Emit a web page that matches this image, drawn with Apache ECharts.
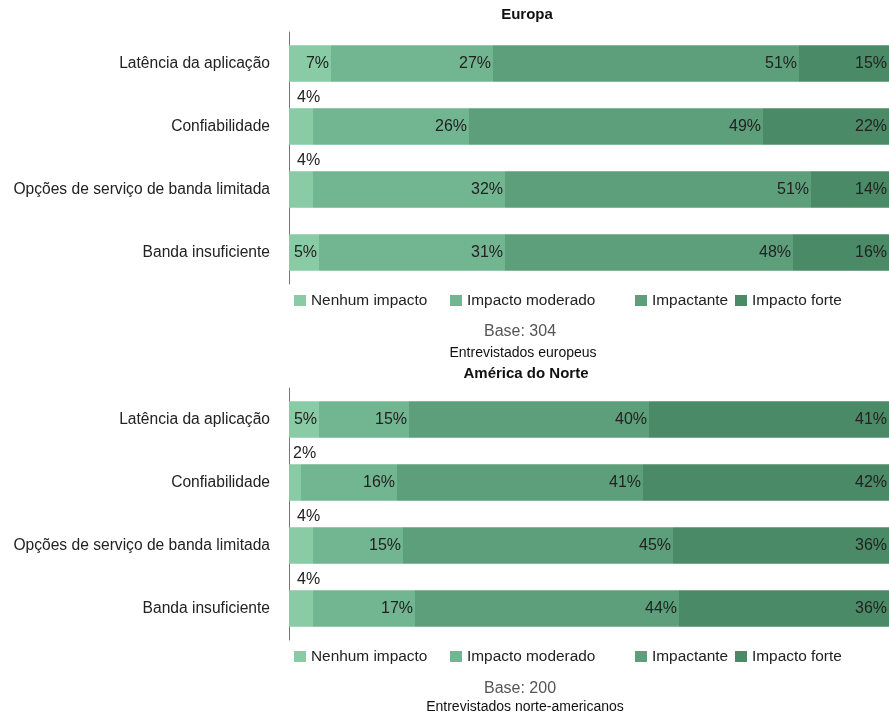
<!DOCTYPE html>
<html>
<head>
<meta charset="utf-8">
<script src="https://cdn.jsdelivr.net/npm/echarts@6/dist/echarts.min.js"></script>
<style>
html,body{margin:0;padding:0;background:#fff;}
#chart{width:889px;height:716px;}
</style>
</head>
<body>
<div id="chart"></div>
<script>
var categories = ['Latência da aplicação', 'Confiabilidade', 'Opções de serviço de banda limitada', 'Banda insuficiente'];
var seriesNames = ['Nenhum impacto', 'Impacto moderado', 'Impactante', 'Impacto forte'];
var colors = ['#88cba4', '#72b591', '#5e9f7b', '#4b8a66'];

var euNenhum = [7, 4, 4, 5];
var euModerado = [27, 26, 32, 31];
var euImpactante = [51, 49, 51, 48];
var euForte = [15, 22, 14, 16];

var naNenhum = [5, 2, 4, 4];
var naModerado = [15, 16, 15, 17];
var naImpactante = [40, 41, 45, 44];
var naForte = [41, 42, 36, 36];

var FONT = '"Liberation Sans", Arial, Helvetica, sans-serif';

function items(values) {
  return values.map(function (v) {
    if (v < 5) {
      return {
        value: v,
        label: { position: [v < 3 ? 4 : 8, -19], align: 'left', verticalAlign: 'top' }
      };
    }
    return v;
  });
}

function makeSeries(gridIdx, stack, arrays) {
  return arrays.map(function (arr, i) {
    return {
      type: 'bar',
      name: seriesNames[i],
      stack: stack,
      xAxisIndex: gridIdx,
      yAxisIndex: gridIdx,
      barWidth: '58%',
      itemStyle: { color: colors[i] },
      label: {
        show: true,
        position: 'insideRight',
        distance: 2,
        formatter: '{c}%',
        color: '#222',
        fontSize: 16,
        fontFamily: FONT
      },
      data: items(arr)
    };
  });
}

function legendsAt(top) {
  var lefts = [294, 450, 635, 735];
  return seriesNames.map(function (n, i) {
    return {
      data: [n],
      left: lefts[i],
      top: top,
      padding: 0,
      icon: 'rect',
      itemWidth: 12,
      itemHeight: 11,
      itemGap: 6,
      selectedMode: false,
      textStyle: { fontSize: 15.4, color: '#222', fontFamily: FONT }
    };
  });
}

function txt(text, x, y, size, weight, color) {
  return {
    type: 'text',
    x: x, y: y,
    style: {
      text: text,
      fontSize: size,
      fontWeight: weight,
      fontFamily: FONT,
      fill: color,
      textAlign: 'center',
      textVerticalAlign: 'middle',
      align: 'center',
      verticalAlign: 'middle'
    }
  };
}

var yAxisBase = {
  type: 'category',
  data: categories,
  inverse: true,
  axisTick: { show: false },
  axisLine: { show: true, lineStyle: { color: '#777', width: 1 } },
  axisLabel: { fontSize: 15.6, color: '#222', margin: 19, fontFamily: FONT }
};

var option = {
  animation: false,
  backgroundColor: '#fff',
  grid: [
    { left: 289, right: 0, top: 32, height: 252 },
    { left: 289, right: 0, top: 388, height: 252 }
  ],
  xAxis: [
    { type: 'value', gridIndex: 0, min: 0, max: 100, show: false },
    { type: 'value', gridIndex: 1, min: 0, max: 100, show: false }
  ],
  yAxis: [
    Object.assign({ gridIndex: 0 }, yAxisBase),
    Object.assign({ gridIndex: 1 }, yAxisBase)
  ],
  legend: legendsAt(293).concat(legendsAt(649)),
  graphic: [
    txt('Europa', 527, 15, 15, 'bold', '#111'),
    txt('Base: 304', 520, 332, 16, 'normal', '#555'),
    txt('Entrevistados europeus', 523, 353, 14, 'normal', '#111'),
    txt('América do Norte', 526, 374, 15, 'bold', '#111'),
    txt('Base: 200', 520, 689, 16, 'normal', '#555'),
    txt('Entrevistados norte-americanos', 525, 707, 14, 'normal', '#111')
  ],
  series: makeSeries(0, 'eu', [euNenhum, euModerado, euImpactante, euForte])
    .concat(makeSeries(1, 'na', [naNenhum, naModerado, naImpactante, naForte]))
};

var chart = echarts.init(document.getElementById('chart'), null, { renderer: 'canvas' });
chart.setOption(option);
</script>
</body>
</html>
